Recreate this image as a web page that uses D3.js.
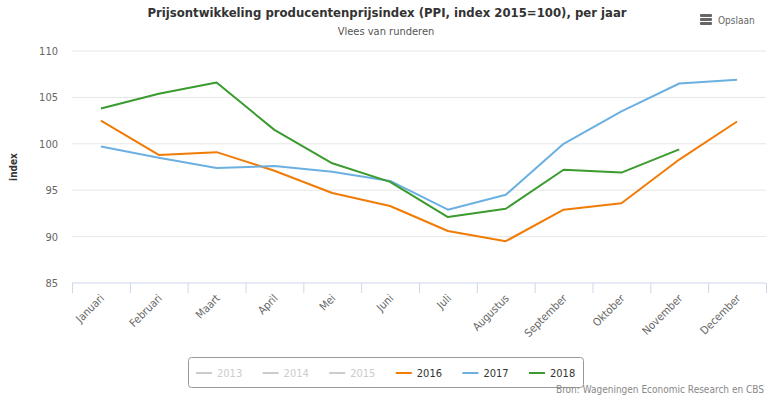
<!DOCTYPE html>
<html>
<head>
<meta charset="utf-8">
<script src="https://cdn.jsdelivr.net/npm/d3@7"></script>
<style>
  body { margin: 0; background: #fff; }
  svg { font-family: "DejaVu Sans Condensed", "DejaVu Sans", sans-serif; display: block; }
</style>
</head>
<body>
<div id="chart"></div>
<script>
const months = ['Januari', 'Februari', 'Maart', 'April', 'Mei', 'Juni', 'Juli', 'Augustus', 'September', 'Oktober', 'November', 'December'];
const yTicks = [85, 90, 95, 100, 105, 110];
const values2016 = [102.5, 98.8, 99.1, 97.1, 94.7, 93.3, 90.6, 89.5, 92.9, 93.6, 98.3, 102.4];
const values2017 = [99.7, 98.5, 97.4, 97.6, 97.0, 96.0, 92.9, 94.5, 100.0, 103.5, 106.5, 106.9];
const values2018 = [103.8, 105.4, 106.6, 101.5, 97.9, 95.9, 92.1, 93.0, 97.2, 96.9, 99.4];
const legendYears = ['2013', '2014', '2015', '2016', '2017', '2018'];
const legendColors = ['#cccccc', '#cccccc', '#cccccc', '#f07b05', '#6cb0e2', '#3a9b2e'];
const legendHidden = [true, true, true, false, false, false];

const width = 771;
const height = 398;
const margin = { top: 51, right: 5, bottom: 115, left: 72 };
const innerWidth = width - margin.left - margin.right;
const innerHeight = height - margin.top - margin.bottom;

const svg = d3.select('#chart').append('svg')
  .attr('width', width)
  .attr('height', height);

// title + subtitle
svg.append('text')
  .attr('x', 387).attr('y', 17)
  .attr('text-anchor', 'middle')
  .attr('font-size', 13).attr('font-weight', 'bold')
  .attr('fill', '#333')
  .text('Prijsontwikkeling producentenprijsindex (PPI, index 2015=100), per jaar');

svg.append('text')
  .attr('x', 386).attr('y', 35)
  .attr('text-anchor', 'middle')
  .attr('font-size', 11)
  .attr('fill', '#555')
  .text('Vlees van runderen');

// export button
const menu = svg.append('g').attr('transform', 'translate(700,14)');
[0, 4, 8].forEach((dy) => {
  menu.append('rect').attr('x', 0).attr('y', dy).attr('width', 12).attr('height', 3)
    .attr('rx', 1).attr('fill', '#666');
});
svg.append('text')
  .attr('x', 718).attr('y', 24)
  .attr('font-size', 10).attr('fill', '#666')
  .text('Opslaan');

const x = d3.scaleBand()
  .domain(months)
  .range([0, innerWidth]);

const y = d3.scaleLinear()
  .domain([85, 110])
  .range([innerHeight, 0]);

const plot = svg.append('g')
  .attr('transform', `translate(${margin.left},${margin.top})`);

// grid
plot.append('g')
  .selectAll('line')
  .data(yTicks.slice(1))
  .join('line')
  .attr('x1', 0).attr('x2', innerWidth)
  .attr('y1', (d) => y(d)).attr('y2', (d) => y(d))
  .attr('stroke', '#e6e6e6');

// y axis labels
const yAxis = plot.append('g')
  .call(d3.axisLeft(y).tickValues(yTicks).tickSize(0).tickPadding(14));
yAxis.select('.domain').remove();
yAxis.attr('font-family', null);
yAxis.selectAll('text')
  .attr('font-size', 11)
  .attr('fill', '#666');

plot.append('text')
  .attr('transform', 'rotate(-90)')
  .attr('x', -innerHeight / 2)
  .attr('y', -55)
  .attr('text-anchor', 'middle')
  .attr('font-size', 10)
  .attr('font-weight', 'bold')
  .attr('fill', '#333')
  .text('index');

// x axis
const xAxis = plot.append('g')
  .attr('transform', `translate(0,${innerHeight})`);
xAxis.append('line')
  .attr('x1', 0).attr('x2', innerWidth)
  .attr('stroke', '#ccd6eb');
xAxis.selectAll('.tick-mark')
  .data(months.concat(['end']))
  .join('line')
  .attr('class', 'tick-mark')
  .attr('x1', (d, i) => i * x.bandwidth() + 0.5)
  .attr('x2', (d, i) => i * x.bandwidth() + 0.5)
  .attr('y1', 0).attr('y2', 10)
  .attr('stroke', '#ccd6eb');
xAxis.selectAll('.month-label')
  .data(months)
  .join('text')
  .attr('class', 'month-label')
  .attr('transform', (d) => `translate(${x(d) + x.bandwidth() / 2 + 4},16) rotate(-45)`)
  .attr('text-anchor', 'end')
  .attr('font-size', 11)
  .attr('fill', '#666')
  .text((d) => d);

// lines
const line = d3.line()
  .x((d, i) => x(months[i]) + x.bandwidth() / 2)
  .y((d) => y(d));

[[values2016, legendColors[3]], [values2017, legendColors[4]], [values2018, legendColors[5]]]
  .forEach(([vals, color]) => {
    plot.append('path')
      .datum(vals)
      .attr('d', line)
      .attr('fill', 'none')
      .attr('stroke', color)
      .attr('stroke-width', 2)
      .attr('stroke-linejoin', 'round');
  });

// legend
const legend = svg.append('g');
legend.append('rect')
  .attr('x', 188.5).attr('y', 357.5)
  .attr('width', 395).attr('height', 30)
  .attr('rx', 3)
  .attr('fill', '#fff')
  .attr('stroke', '#999');

const legendX = d3.scalePoint()
  .domain(legendYears)
  .range([196, 529]);

const item = legend.selectAll('.item')
  .data(legendYears)
  .join('g')
  .attr('class', 'item')
  .attr('transform', (d) => `translate(${legendX(d)},373)`);
item.append('line')
  .attr('x1', 0).attr('x2', 16)
  .attr('stroke', (d, i) => legendColors[i])
  .attr('stroke-width', 2);
item.append('text')
  .attr('x', 21).attr('y', 4)
  .attr('font-size', 11)
  .attr('fill', (d, i) => legendHidden[i] ? '#cccccc' : '#333')
  .text((d) => d);

svg.append('text')
  .attr('x', 764).attr('y', 393)
  .attr('text-anchor', 'end')
  .attr('font-size', 10)
  .attr('fill', '#888')
  .text('Bron: Wageningen Economic Research en CBS');
</script>
</body>
</html>
